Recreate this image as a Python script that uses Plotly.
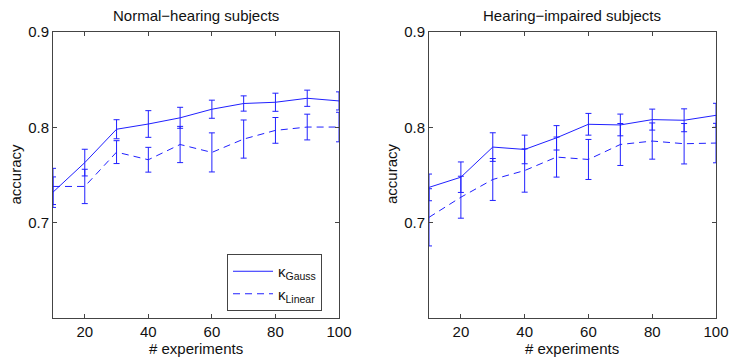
import plotly.graph_objects as go

x = [10, 20, 30, 40, 50, 60, 70, 80, 90, 100]

# Normal-hearing subjects
nh_gauss = [0.732, 0.763, 0.798, 0.8035, 0.810, 0.819, 0.825, 0.8263, 0.8305, 0.8277]
nh_gauss_err = [0.016, 0.014, 0.010, 0.014, 0.011, 0.0095, 0.008, 0.0095, 0.0085, 0.0095]
nh_linear = [0.738, 0.738, 0.774, 0.766, 0.782, 0.7737, 0.7877, 0.7968, 0.8003, 0.8003]
nh_linear_err = [0.019, 0.018, 0.012, 0.013, 0.019, 0.0205, 0.020, 0.0135, 0.0135, 0.0155]

# Hearing-impaired subjects
hi_gauss = [0.737, 0.7477, 0.7793, 0.7768, 0.789, 0.8032, 0.8025, 0.8081, 0.8074, 0.8126]
hi_gauss_err = [0.014, 0.016, 0.015, 0.015, 0.0128, 0.0114, 0.0114, 0.011, 0.012, 0.0126]
hi_linear = [0.7056, 0.7267, 0.7453, 0.7547, 0.7688, 0.7663, 0.782, 0.7856, 0.7828, 0.7835]
hi_linear_err = [0.030, 0.022, 0.022, 0.0227, 0.021, 0.021, 0.022, 0.019, 0.0212, 0.0207]

titles = ["Normal\u2212hearing subjects", "Hearing\u2212impaired subjects"]
xticks = [20, 40, 60, 80, 100]
yticks = [0.7, 0.8, 0.9]
ytick_text = ["0.7", "0.8", "0.9"]

BLUE = "#2020ff"
FONT = "Arial, Liberation Sans, sans-serif"
FS = 15
W, H = 730, 357

fig = go.Figure()

panels = [
    (nh_gauss, nh_gauss_err, nh_linear, nh_linear_err, "x", "y", True),
    (hi_gauss, hi_gauss_err, hi_linear, hi_linear_err, "x2", "y2", False),
]
for g, ge, l, le, xa, ya, show in panels:
    fig.add_trace(go.Scatter(
        x=x, y=g, mode="lines", name="\u03ba<sub>Gauss</sub>",
        line=dict(color=BLUE, width=1),
        error_y=dict(type="data", array=ge, color=BLUE, thickness=1, width=3),
        xaxis=xa, yaxis=ya, showlegend=show))
    fig.add_trace(go.Scatter(
        x=x, y=l, mode="lines", name="\u03ba<sub>Linear</sub>",
        line=dict(color=BLUE, width=1, dash="7px,5px"),
        error_y=dict(type="data", array=le, color=BLUE, thickness=1, width=3),
        xaxis=xa, yaxis=ya, showlegend=show))

ax_common = dict(
    showline=True, linecolor="#444", linewidth=1, mirror="ticks",
    ticks="inside", ticklen=4, tickcolor="#444", showgrid=False, zeroline=False,
    automargin=False,
    tickfont=dict(family=FONT, size=FS, color="#111"),
)

x0a, x1a = 53 / W, 339 / W
x0b, x1b = 429 / W, 716 / W
y0, y1 = 1 - 318 / H, 1 - 32 / H

fig.update_layout(
    width=W, height=H,
    margin=dict(l=0, r=0, t=0, b=0, pad=0, autoexpand=False),
    paper_bgcolor="white", plot_bgcolor="white",
    font=dict(family=FONT, size=FS, color="#111"),
    xaxis=dict(domain=[x0a, x1a], range=[10, 100], tickvals=xticks, anchor="y", **ax_common),
    yaxis=dict(domain=[y0, y1], range=[0.6, 0.9], tickvals=yticks, ticktext=ytick_text, anchor="x", **ax_common),
    xaxis2=dict(domain=[x0b, x1b], range=[10, 100], tickvals=xticks, anchor="y2", **ax_common),
    yaxis2=dict(domain=[y0, y1], range=[0.6, 0.9], tickvals=yticks, ticktext=ytick_text, anchor="x2", **ax_common),
    legend=dict(
        x=227 / W, y=1 - 254 / H, xanchor="left", yanchor="top",
        bgcolor="white", bordercolor="#444", borderwidth=1,
        font=dict(family=FONT, size=FS, color="#111"),
        tracegroupgap=0, itemwidth=40,
    ),
)

annotations = []
for i, (xa0, xa1) in enumerate([(x0a, x1a), (x0b, x1b)]):
    cx = (xa0 + xa1) / 2
    annotations.append(dict(text=titles[i], x=cx, y=1 - 15.5 / H, xref="paper", yref="paper",
                            showarrow=False, xanchor="center", yanchor="middle",
                            font=dict(family=FONT, size=FS, color="#111")))
    annotations.append(dict(text="# experiments", x=cx, y=1 - 348 / H, xref="paper", yref="paper",
                            showarrow=False, xanchor="center", yanchor="middle",
                            font=dict(family=FONT, size=FS, color="#111")))
for xp in [14.5, 391]:
    annotations.append(dict(text="accuracy", x=xp / W, y=1 - 174 / H, xref="paper", yref="paper",
                            showarrow=False, xanchor="center", yanchor="middle", textangle=-90,
                            font=dict(family=FONT, size=FS, color="#111")))
fig.update_layout(annotations=annotations)

fig.write_html(
    "out.html",
    config={"displayModeBar": False},
    post_script="document.body.style.margin='0px';document.body.style.padding='0px';"
                "document.documentElement.style.overflow='hidden';",
)
